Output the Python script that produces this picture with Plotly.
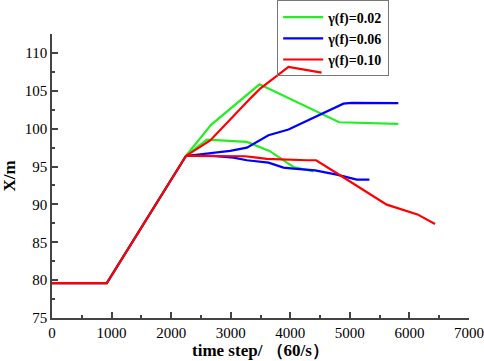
import plotly.graph_objects as go

# Shared initial segment
x_start = [0, 920, 2248]
y_start = [79.6, 79.6, 96.4]

# gamma(f)=0.02 (green) - two branches
g_up_x = [2248, 2670, 3483, 4820, 5814]
g_up_y = [96.4, 100.5, 105.85, 100.85, 100.63]
g_lo_x = [2248, 2600, 3271, 3650, 4053, 4389]
g_lo_y = [96.4, 98.56, 98.25, 97.06, 94.94, 94.37]

# gamma(f)=0.06 (blue)
b_up_x = [2248, 2700, 2991, 3271, 3634, 3970, 4892, 5032, 5814]
b_up_y = [96.4, 96.8, 97.06, 97.5, 99.13, 99.88, 103.3, 103.4, 103.36]
b_lo_x = [2248, 2700, 3047, 3271, 3634, 3886, 4053, 4417, 4780, 5116, 5328]
b_lo_y = [96.4, 96.4, 96.18, 95.83, 95.52, 94.86, 94.73, 94.5, 93.94, 93.27, 93.27]

# gamma(f)=0.10 (red)
r_up_x = [2248, 2656, 3355, 3495, 3970, 4525]
r_up_y = [96.4, 98.45, 104.2, 105.3, 108.15, 107.4]
r_lo_x = [2248, 2900, 3242, 3438, 3606, 4277, 4434, 4836, 5619, 6135, 6430]
r_lo_y = [96.4, 96.36, 96.36, 96.18, 96.0, 95.83, 95.83, 93.85, 89.97, 88.68, 87.42]

labels = ["γ(f)=0.02", "γ(f)=0.06", "γ(f)=0.10"]
colors = ["#22ee22", "#0000ff", "#ff0000"]

fig = go.Figure()
series = [
    (g_up_x, g_up_y, g_lo_x, g_lo_y),
    (b_up_x, b_up_y, b_lo_x, b_lo_y),
    (r_up_x, r_up_y, r_lo_x, r_lo_y),
]
for i, (ux, uy, lx, ly) in enumerate(series):
    xs = x_start[:-1] + ux + [None] + lx
    ys = y_start[:-1] + uy + [None] + ly
    fig.add_trace(go.Scatter(x=xs, y=ys, mode="lines", name=labels[i],
                             line=dict(color=colors[i], width=2.2),
                             connectgaps=False, cliponaxis=False))

serif = "Liberation Serif, Times New Roman, serif"
fig.update_layout(
    width=484, height=361,
    margin=dict(l=52, r=15, t=34, b=43, autoexpand=False),
    paper_bgcolor="white", plot_bgcolor="white",
    font=dict(family=serif, color="black", size=15),
    showlegend=True,
    legend=dict(x=0.54, y=1.118, xanchor="left", yanchor="top",
                bordercolor="#777", borderwidth=1, bgcolor="rgba(255,255,255,0)",
                font=dict(family=serif, size=14, color="black", weight="bold"),
                itemwidth=40, tracegroupgap=0),
    xaxis=dict(range=[0, 7000], dtick=1000, showgrid=False, zeroline=False,
               showline=True, linecolor="#444", linewidth=1.5,
               ticks="inside", ticklen=6, tickwidth=1.5, tickcolor="#444",
               tickfont=dict(family=serif, size=15),
               minor=dict(dtick=500, ticks="inside", ticklen=3, tickwidth=1.5, tickcolor="#444"),
               title=dict(text="time step/ （60/s）", standoff=4,
                          font=dict(family=serif, size=17, weight="bold"))),
    yaxis=dict(range=[75, 112.5], tick0=75, dtick=5, showgrid=False, zeroline=False,
               showline=True, linecolor="#444", linewidth=1.5,
               ticks="inside", ticklen=6, tickwidth=1.5, tickcolor="#444",
               tickfont=dict(family=serif, size=15),
               minor=dict(dtick=2.5, ticks="inside", ticklen=3, tickwidth=1.5, tickcolor="#444"),
               title=dict(text="X/m", standoff=6,
                          font=dict(family=serif, size=17, weight="bold"))),
)

fig.write_html("out.html", config={"displayModeBar": False},
               post_script="document.body.style.margin='0';document.body.style.overflow='hidden';")
